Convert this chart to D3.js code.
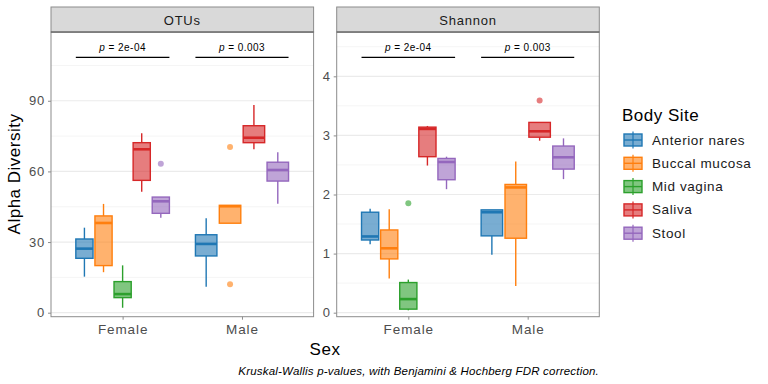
<!DOCTYPE html>
<html>
<head>
<meta charset="utf-8">
<script src="https://cdn.jsdelivr.net/npm/d3@7"></script>
<style>
  body { margin: 0; background: #fff; }
  text { font-family: "Liberation Sans", Arial, sans-serif; }
</style>
</head>
<body>
<script>
// categories
var sites = ["Anterior nares", "Buccal mucosa", "Mid vagina", "Saliva", "Stool"];
var sexes = ["Female", "Male"];
var metrics = ["OTUs", "Shannon"];
var pLabels = ["2e-04", "0.003"];

// box stats per site: [lower whisker, q1, median, q3, upper whisker]
var otusFemale = [[15.3, 23.1, 27.2, 31.3, 36.1], [17.2, 20.0, 38.1, 41.1, 46.2], [2.1, 6.4, 7.9, 13.2, 20.1], [51.4, 56.2, 69.4, 72.2, 76.2], [40.3, 42.2, 47.3, 49.1, 49.1]];
var otusMale = [[11.0, 24.1, 29.2, 33.1, 40.1], [38.0, 38.0, 45.2, 45.6, 45.6], null, [69.4, 72.2, 74.3, 79.4, 88.2], [46.3, 55.9, 60.6, 63.9, 68.1]];
var shannonFemale = [[1.16, 1.23, 1.29, 1.70, 1.76], [0.58, 0.91, 1.09, 1.40, 1.75], [0.04, 0.06, 0.23, 0.51, 0.56], [2.49, 2.64, 3.11, 3.14, 3.16], [2.09, 2.25, 2.55, 2.61, 2.64]];
var shannonMale = [[0.98, 1.30, 1.70, 1.74, 1.74], [0.45, 1.26, 2.12, 2.17, 2.56], null, [2.91, 2.97, 3.07, 3.22, 3.22], [2.26, 2.43, 2.63, 2.82, 2.95]];

// outliers: [sex, site, value]
var otusOutliers = [["Female", "Stool", 63.3], ["Male", "Buccal mucosa", 70.4], ["Male", "Buccal mucosa", 12.1]];
var shannonOutliers = [["Female", "Mid vagina", 1.85], ["Male", "Saliva", 3.59]];

// axis ticks
var otusTicks = [0, 30, 60, 90];
var otusMinor = [15, 45, 75, 105];
var shannonTicks = [0, 1, 2, 3, 4];
var shannonMinor = [0.5, 1.5, 2.5, 3.5, 4.5];

var panels = [
  {name: metrics[0], stats: {Female: otusFemale, Male: otusMale}, outliers: otusOutliers,
   ticks: otusTicks, minor: otusMinor, domain: [-1.7, 119.2], barVal: 108.4, left: 51},
  {name: metrics[1], stats: {Female: shannonFemale, Male: shannonMale}, outliers: shannonOutliers,
   ticks: shannonTicks, minor: shannonMinor, domain: [-0.068, 4.75], barVal: 4.32, left: 336.7}
];

var W = 768, H = 384;
var pw = 262.6, panelTop = 32, panelBottom = 316.7, stripTop = 7;

var color = d3.scaleOrdinal().domain(sites)
  .range(["#1f77b4", "#ff7f0e", "#2ca02c", "#d62728", "#9467bd"]);

var svg = d3.select("body").append("svg")
  .attr("width", W).attr("height", H);

var x = d3.scalePoint().domain(sexes).range([0, pw]).padding(0.6);
var step = x.step();

panels.forEach(function(p) {
  var g = svg.append("g").attr("transform", "translate(" + p.left + ",0)");
  var y = d3.scaleLinear().domain(p.domain).range([panelBottom, panelTop]);

  // grid
  g.selectAll(".minor").data(p.minor).enter().append("line")
    .attr("x1", 0).attr("x2", pw)
    .attr("y1", function(d){ return y(d); }).attr("y2", function(d){ return y(d); })
    .attr("stroke", "#f3f3f3").attr("stroke-width", 0.8);
  g.selectAll(".major").data(p.ticks).enter().append("line")
    .attr("x1", 0).attr("x2", pw)
    .attr("y1", function(d){ return y(d); }).attr("y2", function(d){ return y(d); })
    .attr("stroke", "#ebebeb").attr("stroke-width", 1.2);

  // boxes
  sexes.forEach(function(sex, si) {
    var st = p.stats[sex];
    var present = sites.filter(function(s, i){ return st[i]; });
    var c = x(sex);
    var inner = d3.scaleBand().domain(present)
      .range([c - 0.4 * step, c + 0.4 * step]).paddingInner(0.1).paddingOuter(0.05);
    var bw = inner.bandwidth();

    sites.forEach(function(site, i) {
      var s = st[i];
      if (!s) return;
      var x0 = inner(site), xc = x0 + bw / 2, col = color(site);
      g.append("line").attr("x1", xc).attr("x2", xc)
        .attr("y1", y(s[0])).attr("y2", y(s[1]))
        .attr("stroke", col).attr("stroke-width", 1.4);
      g.append("line").attr("x1", xc).attr("x2", xc)
        .attr("y1", y(s[3])).attr("y2", y(s[4]))
        .attr("stroke", col).attr("stroke-width", 1.4);
      g.append("rect").attr("x", x0).attr("width", bw)
        .attr("y", y(s[3])).attr("height", Math.max(0.5, y(s[1]) - y(s[3])))
        .attr("fill", col).attr("fill-opacity", 0.6)
        .attr("stroke", col).attr("stroke-width", 1.4);
      g.append("line").attr("x1", x0).attr("x2", x0 + bw)
        .attr("y1", y(s[2])).attr("y2", y(s[2]))
        .attr("stroke", col).attr("stroke-width", 2.6);

      p.outliers.filter(function(o){ return o[0] === sex && o[1] === site; })
        .forEach(function(o) {
          g.append("circle").attr("cx", xc).attr("cy", y(o[2])).attr("r", 3)
            .attr("fill", col).attr("fill-opacity", 0.6);
        });
    });

    // significance bar
    g.append("line")
      .attr("x1", inner(present[0])).attr("x2", inner(present[present.length - 1]) + bw)
      .attr("y1", y(p.barVal)).attr("y2", y(p.barVal))
      .attr("stroke", "#000").attr("stroke-width", 1.2);
    var t = g.append("text").attr("x", c).attr("y", y(p.barVal) - 6)
      .attr("text-anchor", "middle").attr("font-size", 10).attr("fill", "#000")
      .attr("letter-spacing", 0.45);
    t.append("tspan").attr("font-style", "italic").text("p");
    t.append("tspan").text(" = " + pLabels[si]);
  });

  // panel border
  g.append("rect").attr("x", 0).attr("y", panelTop).attr("width", pw).attr("height", panelBottom - panelTop)
    .attr("fill", "none").attr("stroke", "#8c8c8c").attr("stroke-width", 1);

  // strip
  g.append("rect").attr("x", 0).attr("y", stripTop).attr("width", pw).attr("height", panelTop - stripTop)
    .attr("fill", "#d9d9d9").attr("stroke", "#8c8c8c").attr("stroke-width", 1);
  g.append("line").attr("x1", 0).attr("x2", pw).attr("y1", panelTop).attr("y2", panelTop)
    .attr("stroke", "#555").attr("stroke-width", 1.2);
  g.append("text").attr("x", pw / 2).attr("y", 24.5).attr("text-anchor", "middle")
    .attr("font-size", 13).attr("letter-spacing", 0.8).attr("fill", "#1a1a1a").text(p.name);

  // axes
  var ya = g.append("g").call(d3.axisLeft(y).tickValues(p.ticks).tickSize(3).tickPadding(3)
    .tickFormat(d3.format("d")));
  ya.select(".domain").remove();
  ya.selectAll("line").attr("stroke", "#8c8c8c");
  ya.selectAll("text").attr("font-size", 13).attr("letter-spacing", 0.8).attr("fill", "#4d4d4d")
    .attr("font-family", "Liberation Sans, Arial, sans-serif");

  var xa = g.append("g").attr("transform", "translate(0," + panelBottom + ")")
    .call(d3.axisBottom(x).tickSize(3).tickPadding(4.5));
  xa.select(".domain").remove();
  xa.selectAll("line").attr("stroke", "#8c8c8c");
  xa.selectAll("text").attr("font-size", 13.5).attr("letter-spacing", 0.9).attr("fill", "#4d4d4d")
    .attr("font-family", "Liberation Sans, Arial, sans-serif");
});

// axis titles
svg.append("text").attr("transform", "translate(20,174) rotate(-90)")
  .attr("text-anchor", "middle").attr("font-size", 17).attr("letter-spacing", 0.5)
  .attr("fill", "#000").text("Alpha Diversity");
svg.append("text").attr("x", 325).attr("y", 355).attr("text-anchor", "middle")
  .attr("font-size", 17).attr("letter-spacing", 0.5).attr("fill", "#000").text("Sex");
svg.append("text").attr("x", 599).attr("y", 375).attr("text-anchor", "end")
  .attr("font-size", 11.5).attr("letter-spacing", 0.2).attr("font-style", "italic").attr("fill", "#000")
  .text("Kruskal-Wallis p-values, with Benjamini & Hochberg FDR correction.");

// legend
var lg = svg.append("g").attr("transform", "translate(622,0)");
lg.append("text").attr("x", 0).attr("y", 121).attr("font-size", 17).attr("letter-spacing", 0.5)
  .attr("fill", "#000").text("Body Site");
sites.forEach(function(site, i) {
  var cy = 140 + i * 23.3, col = color(site);
  lg.append("line").attr("x1", 11).attr("x2", 11).attr("y1", cy - 8.5).attr("y2", cy + 8.5)
    .attr("stroke", col).attr("stroke-width", 1.2);
  lg.append("rect").attr("x", 2).attr("y", cy - 6).attr("width", 18).attr("height", 12)
    .attr("fill", col).attr("fill-opacity", 0.6).attr("stroke", col).attr("stroke-width", 1.4);
  lg.append("line").attr("x1", 2).attr("x2", 20).attr("y1", cy).attr("y2", cy)
    .attr("stroke", col).attr("stroke-width", 1.4);
  lg.append("text").attr("x", 30).attr("y", cy + 4.5).attr("font-size", 13.5).attr("letter-spacing", 0.6)
    .attr("fill", "#1a1a1a").text(site);
});
</script>
</body>
</html>
